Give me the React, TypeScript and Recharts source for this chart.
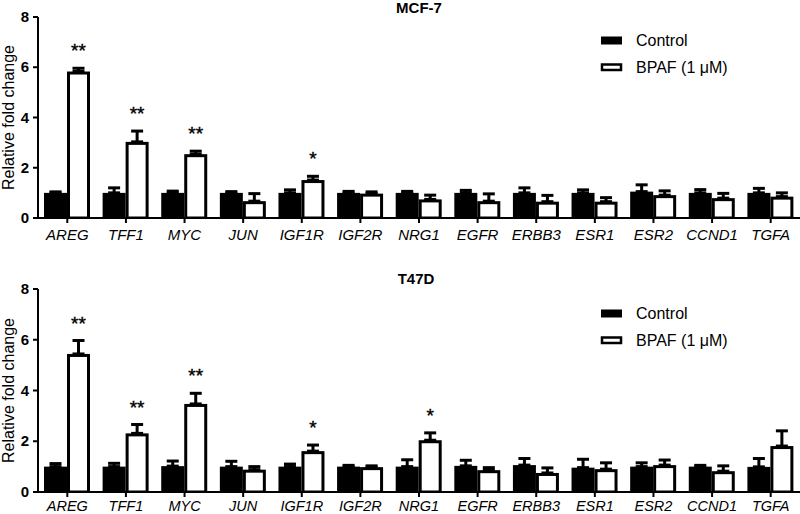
import React from 'react';
import { BarChart, Bar, XAxis, YAxis, ErrorBar, LabelList, Legend } from 'recharts';

const genes = ['AREG', 'TFF1', 'MYC', 'JUN', 'IGF1R', 'IGF2R', 'NRG1', 'EGFR', 'ERBB3', 'ESR1', 'ESR2', 'CCND1', 'TGFA'];
const yTicks = [0, 2, 4, 6, 8];
const seriesNames = ['Control', 'BPAF (1 \u03bcM)'];

const mcfControl = [1.0, 1.0, 1.0, 1.0, 1.0, 1.0, 1.0, 1.0, 1.0, 1.0, 1.05, 1.0, 1.0];
const mcfControlErr = [0.04, 0.2, 0.07, 0.05, 0.12, 0.06, 0.06, 0.1, 0.2, 0.12, 0.27, 0.13, 0.18];
const mcfBpaf = [5.83, 3.03, 2.54, 0.67, 1.51, 0.97, 0.74, 0.67, 0.65, 0.65, 0.91, 0.79, 0.85];
const mcfBpafErr = [0.13, 0.43, 0.12, 0.3, 0.15, 0.07, 0.17, 0.29, 0.25, 0.16, 0.17, 0.19, 0.15];
const mcfSig = ['**', '**', '**', '', '*', '', '', '', '', '', '', '', ''];

const t47Control = [1.0, 1.0, 1.02, 1.0, 1.0, 1.0, 1.0, 1.03, 1.06, 0.96, 1.0, 1.0, 0.99];
const t47ControlErr = [0.12, 0.13, 0.2, 0.21, 0.1, 0.05, 0.27, 0.22, 0.26, 0.33, 0.15, 0.05, 0.33];
const t47Bpaf = [5.44, 2.31, 3.47, 0.88, 1.61, 0.98, 2.04, 0.86, 0.75, 0.9, 1.06, 0.82, 1.81];
const t47BpafErr = [0.53, 0.35, 0.42, 0.12, 0.24, 0.05, 0.29, 0.1, 0.2, 0.25, 0.2, 0.21, 0.6];
const t47Sig = ['**', '**', '**', '', '*', '', '*', '', '', '', '', '', ''];

const FONT = '"Liberation Sans", Arial, sans-serif';

function buildRows(control: number[], controlErr: number[], bpaf: number[], bpafErr: number[], sig: string[]) {
  return genes.map((g, i) => ({
    gene: g,
    control: control[i],
    controlErr: [0, controlErr[i]],
    bpaf: bpaf[i],
    bpafErr: [0, bpafErr[i]],
    bpafErrVal: bpafErr[i],
    sig: sig[i],
  }));
}

const OutlineBar = (p: any) => {
  const { x, y, width, height } = p;
  if (width == null || height == null) return null;
  return (
    <rect
      x={x + 1.5}
      y={y + 1.5}
      width={Math.max(width - 3, 0)}
      height={Math.max(height - 1.5, 0)}
      fill="#fff"
      stroke="#000"
      strokeWidth={3}
    />
  );
};

const LegendContent = (props: any) => {
  const payload = [...(props.payload || [])].sort(
    (a: any, b: any) => seriesNames.indexOf(a.value) - seriesNames.indexOf(b.value)
  );
  return (
    <svg width={200} height={60} style={{ display: 'block', overflow: 'visible' }}>
      {payload.map((e: any, i: number) => {
        const white = e.color === '#fff' || e.color === '#ffffff';
        const rowY = i * 27;
        return (
          <g key={i}>
            {white ? (
              <rect x={2} y={rowY + 7.5} width={19} height={5.5} fill="#fff" stroke="#000" strokeWidth={2.5} />
            ) : (
              <rect x={1} y={rowY + 6.5} width={21} height={8} fill="#000" />
            )}
            <text x={36} y={rowY + 15.5} fontSize={16} fontFamily={FONT} fill="#000">
              {e.value}
            </text>
          </g>
        );
      })}
    </svg>
  );
};

function makeStarLabel(rows: any[]) {
  return (props: any) => {
    const vb = props.viewBox || props;
    const idx = props.index;
    if (idx == null || !rows[idx] || !rows[idx].sig) return null;
    const x = Number(vb.x);
    const y = Number(vb.y);
    const w = Number(vb.width);
    const h = Number(vb.height);
    const value = rows[idx].bpaf;
    const top = Math.min(y, y + h);
    const ppu = Math.abs(h) / value;
    const errTop = top - rows[idx].bpafErrVal * ppu;
    return (
      <text x={x + w / 2} y={errTop - 11} textAnchor="middle" fontSize={19} fontFamily={FONT} fill="#000" stroke="#000" strokeWidth={0.4}>
        {rows[idx].sig}
      </text>
    );
  };
}

const YTick = (props: any) => {
  const { x, y, payload } = props;
  return (
    <text x={x} y={y} dy={5} textAnchor="end" fontSize={15} fontWeight="bold" fontFamily={FONT} fill="#000">
      {payload.value}
    </text>
  );
};

const YLabel = (props: any) => {
  const vb = props.viewBox || {};
  const cy = vb.y + vb.height / 2;
  const x = 13.5;
  return (
    <text
      x={x}
      y={cy}
      transform={`rotate(-90, ${x}, ${cy})`}
      textAnchor="middle"
      fontSize={16}
      fontFamily={FONT}
      fill="#000"
    >
      Relative fold change
    </text>
  );
};

function Panel(props: { rows: any[]; height: number; marginTop: number; xHeight: number; legendTop: number; xFont: number; xMargin: number }) {
  const { rows, height, marginTop, xHeight, legendTop, xFont, xMargin } = props;
  return (
    <BarChart
      width={800}
      height={height}
      data={rows}
      margin={{ top: marginTop, right: 0, bottom: 0, left: 0 }}
      barSize={23}
      barGap={0}
    >
      <XAxis
        dataKey="gene"
        height={xHeight}
        axisLine={{ stroke: '#000', strokeWidth: 2 }}
        tickLine={{ stroke: '#000', strokeWidth: 2 }}
        tickSize={5}
        tickMargin={xMargin}
        interval={0}
        tick={{ fill: '#000', fontSize: xFont, fontStyle: 'italic', fontFamily: FONT }}
      />
      <YAxis
        width={38}
        domain={[0, 8]}
        ticks={yTicks}
        allowDataOverflow
        axisLine={{ stroke: '#000', strokeWidth: 2 }}
        tickLine={{ stroke: '#000', strokeWidth: 2 }}
        tickSize={5}
        tickMargin={4}
        tick={<YTick />}
        label={<YLabel />}
      />
      <Legend
        layout="horizontal"
        align="center"
        verticalAlign="middle"
        content={<LegendContent />}
        wrapperStyle={{ top: legendTop, left: 600, width: 200, height: 60 }}
      />
      <Bar dataKey="control" name={seriesNames[0]} fill="#000" isAnimationActive={false}>
        <ErrorBar dataKey="controlErr" width={6} stroke="#000" strokeWidth={3} direction="y" />
      </Bar>
      <Bar dataKey="bpaf" name={seriesNames[1]} fill="#fff" shape={<OutlineBar />} isAnimationActive={false}>
        <ErrorBar dataKey="bpafErr" width={6} stroke="#000" strokeWidth={3} direction="y" />
        <LabelList dataKey="bpaf" content={makeStarLabel(rows)} />
      </Bar>
    </BarChart>
  );
}

const mcfRows = buildRows(mcfControl, mcfControlErr, mcfBpaf, mcfBpafErr, mcfSig);
const t47Rows = buildRows(t47Control, t47ControlErr, t47Bpaf, t47BpafErr, t47Sig);

export default function App() {
  return (
    <div style={{ position: 'absolute', left: 0, top: 0, width: 800, height: 514, background: '#fff', fontFamily: FONT, overflow: 'hidden' }}>
      <div style={{ position: 'absolute', left: 0, top: 0 }}>
        <Panel rows={mcfRows} height={250} marginTop={17} xHeight={32} legendTop={30} xFont={15} xMargin={6} />
      </div>
      <div style={{ position: 'absolute', left: 0, top: 249 }}>
        <Panel rows={t47Rows} height={265} marginTop={40} xHeight={22} legendTop={54} xFont={14.5} xMargin={4} />
      </div>
      <svg width={800} height={514} style={{ position: 'absolute', left: 0, top: 0, pointerEvents: 'none' }}>
        <text x={419} y={13} textAnchor="middle" fontSize={15} fontWeight="bold" fontFamily={FONT} fill="#000">MCF-7</text>
        <text x={416} y={284} textAnchor="middle" fontSize={15} fontWeight="bold" fontFamily={FONT} fill="#000">T47D</text>
      </svg>
    </div>
  );
}
